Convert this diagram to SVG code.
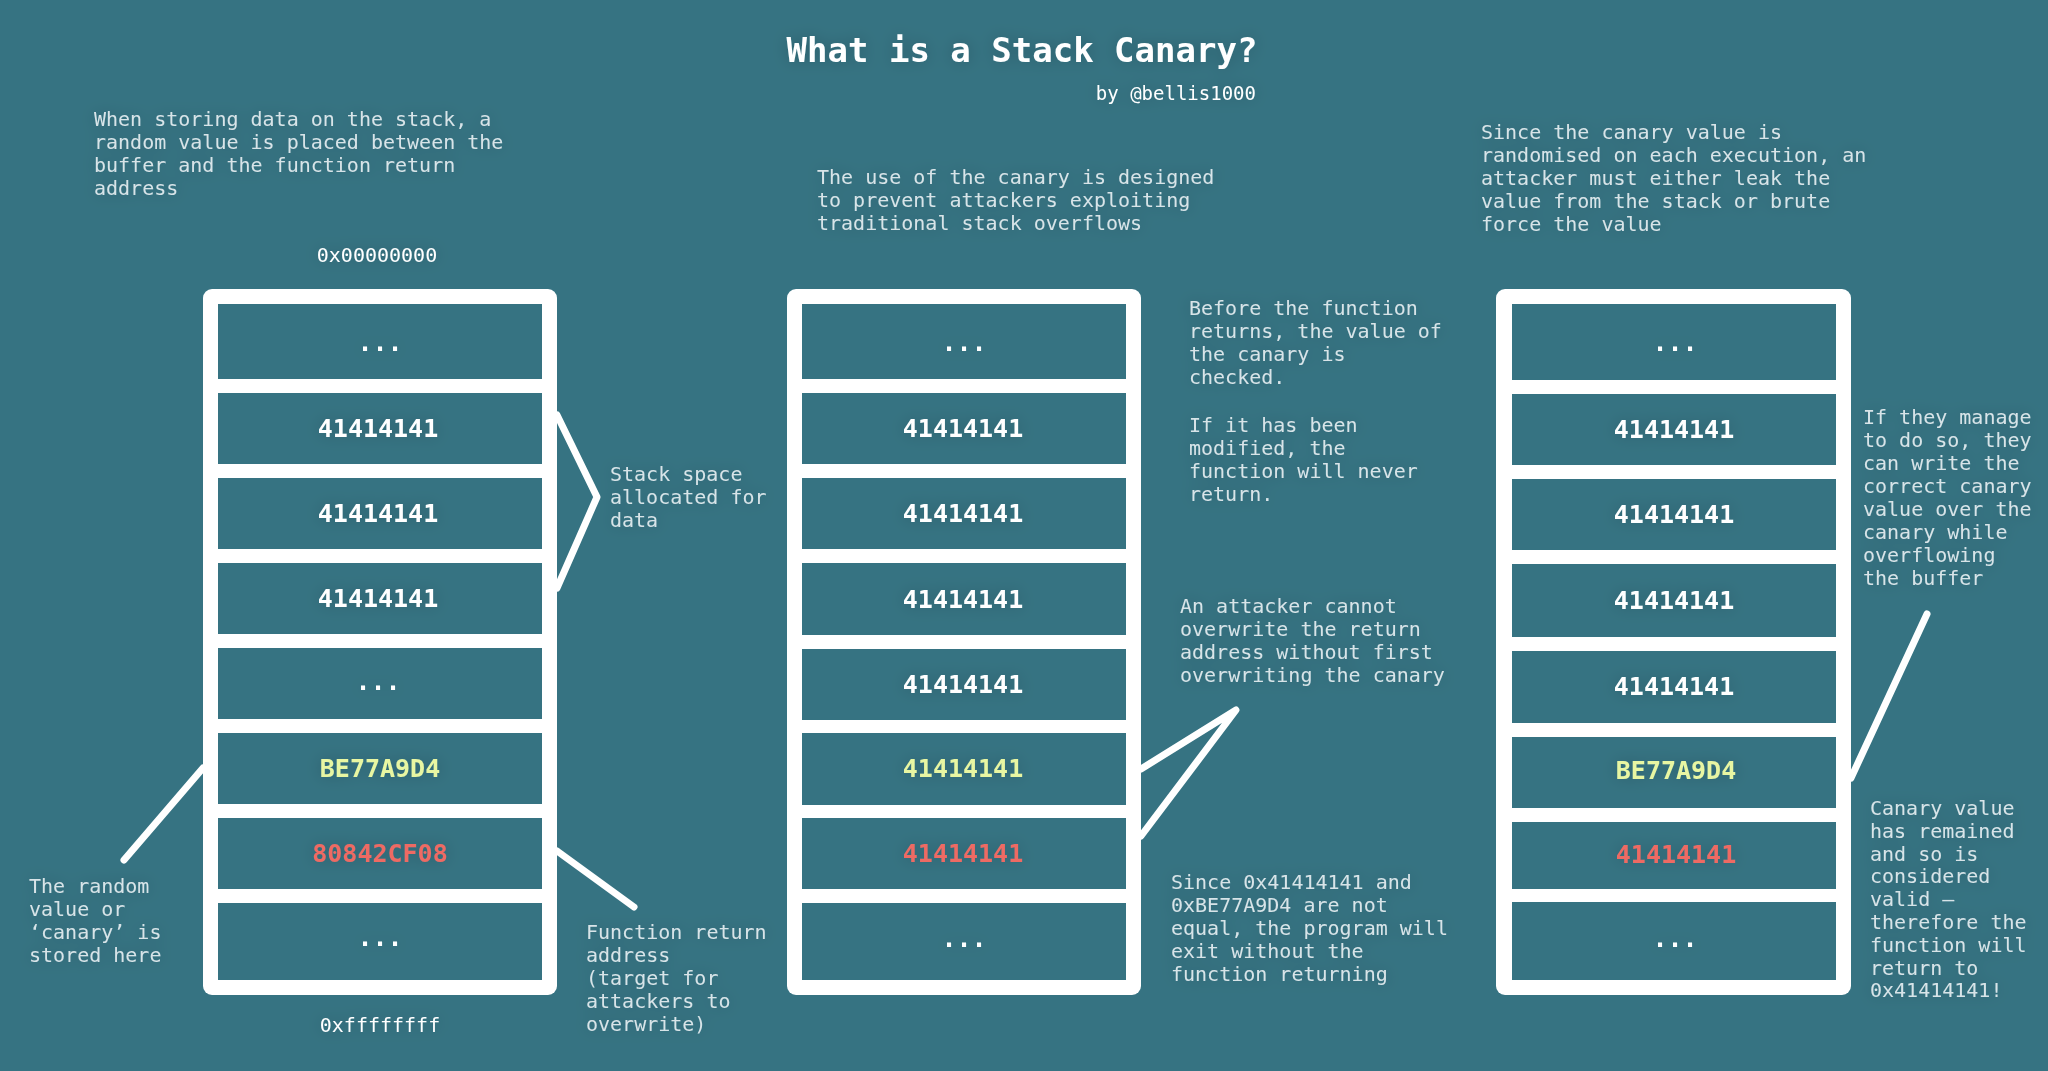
<svg xmlns="http://www.w3.org/2000/svg" width="2048" height="1071" viewBox="0 0 2048 1071">
<defs>
<filter id="sh" x="-20%" y="-50%" width="140%" height="200%">
<feGaussianBlur in="SourceAlpha" stdDeviation="8"/>
<feComponentTransfer><feFuncA type="linear" slope="0.2"/></feComponentTransfer>
<feMerge><feMergeNode/><feMergeNode in="SourceGraphic"/></feMerge>
</filter>
</defs>
<style>
.bg{fill:#367382}
.frame{fill:#ffffff}
.cell{fill:#367382}
.t{font-family:"DejaVu Sans Mono","Liberation Mono",monospace;font-size:20px;fill:#d8e4e8}
.addr{font-family:"DejaVu Sans Mono","Liberation Mono",monospace;font-size:20px;fill:#ffffff;text-anchor:middle}
.v{font-family:"DejaVu Sans Mono","Liberation Mono",monospace;font-size:25px;font-weight:bold;fill:#ffffff;text-anchor:middle}
.y{fill:#e8f6a2}
.r{fill:#ee6a64}
.title{font-family:"DejaVu Sans Mono","Liberation Mono",monospace;font-size:34px;font-weight:bold;fill:#ffffff;text-anchor:middle}
.sub{font-family:"DejaVu Sans Mono","Liberation Mono",monospace;font-size:19px;fill:#ffffff;text-anchor:end}
.con{fill:none;stroke:#ffffff;stroke-width:7;stroke-linecap:round;stroke-linejoin:round}
</style>
<rect class="bg" x="0" y="0" width="2048" height="1071"/>

<g id="title" filter="url(#sh)">
<text class="title" x="1022" y="62">What is a Stack Canary?</text>
<text class="sub" x="1256" y="100">by @bellis1000</text>
</g>

<g id="intro-left" filter="url(#sh)">
<text class="t" x="94" y="126"><tspan x="94">When storing data on the stack, a</tspan><tspan x="94" dy="23">random value is placed between the</tspan><tspan x="94" dy="23">buffer and the function return</tspan><tspan x="94" dy="23">address</tspan></text>
</g>
<g id="intro-middle" filter="url(#sh)">
<text class="t" x="817" y="184"><tspan x="817">The use of the canary is designed</tspan><tspan x="817" dy="23">to prevent attackers exploiting</tspan><tspan x="817" dy="23">traditional stack overflows</tspan></text>
</g>
<g id="intro-right" filter="url(#sh)">
<text class="t" x="1481" y="139"><tspan x="1481">Since the canary value is</tspan><tspan x="1481" dy="23">randomised on each execution, an</tspan><tspan x="1481" dy="23">attacker must either leak the</tspan><tspan x="1481" dy="23">value from the stack or brute</tspan><tspan x="1481" dy="23">force the value</tspan></text>
</g>

<g id="addr-top" filter="url(#sh)"><text class="addr" x="377" y="262">0x00000000</text></g>
<g id="addr-bottom" filter="url(#sh)"><text class="addr" x="380" y="1032">0xffffffff</text></g>

<g id="stack-left">
<rect class="frame" x="203" y="289" width="354" height="706" rx="9"/>
<rect class="cell" x="218" y="304" width="324" height="75"/>
<rect class="cell" x="218" y="393" width="324" height="71"/>
<rect class="cell" x="218" y="478" width="324" height="71"/>
<rect class="cell" x="218" y="563" width="324" height="71"/>
<rect class="cell" x="218" y="648" width="324" height="71"/>
<rect class="cell" x="218" y="733" width="324" height="71"/>
<rect class="cell" x="218" y="818" width="324" height="71"/>
<rect class="cell" x="218" y="903" width="324" height="77"/>
<g filter="url(#sh)">
<text class="v" x="380" y="351">...</text>
<text class="v" x="378" y="437">41414141</text>
<text class="v" x="378" y="522">41414141</text>
<text class="v" x="378" y="607">41414141</text>
<text class="v" x="378" y="690">...</text>
<text class="v y" x="380" y="777">BE77A9D4</text>
<text class="v r" x="380" y="862">80842CF08</text>
<text class="v" x="380" y="946">...</text>
</g>
</g>

<g id="stack-middle">
<rect class="frame" x="787" y="289" width="354" height="706" rx="9"/>
<rect class="cell" x="802" y="304" width="324" height="75"/>
<rect class="cell" x="802" y="393" width="324" height="71"/>
<rect class="cell" x="802" y="478" width="324" height="71"/>
<rect class="cell" x="802" y="563" width="324" height="72"/>
<rect class="cell" x="802" y="649" width="324" height="71"/>
<rect class="cell" x="802" y="733" width="324" height="72"/>
<rect class="cell" x="802" y="818" width="324" height="71"/>
<rect class="cell" x="802" y="903" width="324" height="77"/>
<g filter="url(#sh)">
<text class="v" x="964" y="351">...</text>
<text class="v" x="963" y="437">41414141</text>
<text class="v" x="963" y="522">41414141</text>
<text class="v" x="963" y="608">41414141</text>
<text class="v" x="963" y="693">41414141</text>
<text class="v y" x="963" y="777">41414141</text>
<text class="v r" x="963" y="862">41414141</text>
<text class="v" x="964" y="947">...</text>
</g>
</g>

<g id="stack-right">
<rect class="frame" x="1496" y="289" width="355" height="706" rx="9"/>
<rect class="cell" x="1512" y="304" width="324" height="76"/>
<rect class="cell" x="1512" y="394" width="324" height="71"/>
<rect class="cell" x="1512" y="479" width="324" height="71"/>
<rect class="cell" x="1512" y="564" width="324" height="73"/>
<rect class="cell" x="1512" y="651" width="324" height="72"/>
<rect class="cell" x="1512" y="737" width="324" height="71"/>
<rect class="cell" x="1512" y="822" width="324" height="67"/>
<rect class="cell" x="1512" y="902" width="324" height="78"/>
<g filter="url(#sh)">
<text class="v" x="1675" y="351">...</text>
<text class="v" x="1674" y="438">41414141</text>
<text class="v" x="1674" y="523">41414141</text>
<text class="v" x="1674" y="609">41414141</text>
<text class="v" x="1674" y="695">41414141</text>
<text class="v y" x="1676" y="779">BE77A9D4</text>
<text class="v r" x="1676" y="863">41414141</text>
<text class="v" x="1675" y="947">...</text>
</g>
</g>

<g id="connectors">
<polyline class="con" points="557,415 597,497 557,588"/>
<line class="con" x1="203" y1="768" x2="124" y2="860"/>
<line class="con" x1="557" y1="851" x2="634" y2="907"/>
<polyline class="con" points="1141,769 1236,710 1141,836"/>
<line class="con" x1="1927" y1="614" x2="1851" y2="778"/>
</g>

<g id="label-stack-space" filter="url(#sh)">
<text class="t" x="610" y="481"><tspan x="610">Stack space</tspan><tspan x="610" dy="23">allocated for</tspan><tspan x="610" dy="23">data</tspan></text>
</g>
<g id="label-canary" filter="url(#sh)">
<text class="t" x="29" y="893"><tspan x="29">The random</tspan><tspan x="29" dy="23">value or</tspan><tspan x="29" dy="23">‘canary’ is</tspan><tspan x="29" dy="23">stored here</tspan></text>
</g>
<g id="label-return" filter="url(#sh)">
<text class="t" x="586" y="939"><tspan x="586">Function return</tspan><tspan x="586" dy="23">address</tspan><tspan x="586" dy="23">(target for</tspan><tspan x="586" dy="23">attackers to</tspan><tspan x="586" dy="23">overwrite)</tspan></text>
</g>
<g id="label-check" filter="url(#sh)">
<text class="t" x="1189" y="315"><tspan x="1189">Before the function</tspan><tspan x="1189" dy="23">returns, the value of</tspan><tspan x="1189" dy="23">the canary is</tspan><tspan x="1189" dy="23">checked.</tspan><tspan x="1189" dy="48">If it has been</tspan><tspan x="1189" dy="23">modified, the</tspan><tspan x="1189" dy="23">function will never</tspan><tspan x="1189" dy="23">return.</tspan></text>
</g>
<g id="label-attacker" filter="url(#sh)">
<text class="t" x="1180" y="613"><tspan x="1180">An attacker cannot</tspan><tspan x="1180" dy="23">overwrite the return</tspan><tspan x="1180" dy="23">address without first</tspan><tspan x="1180" dy="23">overwriting the canary</tspan></text>
</g>
<g id="label-not-equal" filter="url(#sh)">
<text class="t" x="1171" y="889"><tspan x="1171">Since 0x41414141 and</tspan><tspan x="1171" dy="23">0xBE77A9D4 are not</tspan><tspan x="1171" dy="23">equal, the program will</tspan><tspan x="1171" dy="23">exit without the</tspan><tspan x="1171" dy="23">function returning</tspan></text>
</g>
<g id="label-manage" filter="url(#sh)">
<text class="t" x="1863" y="424"><tspan x="1863">If they manage</tspan><tspan x="1863" dy="23">to do so, they</tspan><tspan x="1863" dy="23">can write the</tspan><tspan x="1863" dy="23">correct canary</tspan><tspan x="1863" dy="23">value over the</tspan><tspan x="1863" dy="23">canary while</tspan><tspan x="1863" dy="23">overflowing</tspan><tspan x="1863" dy="23">the buffer</tspan></text>
</g>
<g id="label-valid" filter="url(#sh)">
<text class="t" x="1870" y="815"><tspan x="1870">Canary value</tspan><tspan x="1870" dy="22.8">has remained</tspan><tspan x="1870" dy="22.8">and so is</tspan><tspan x="1870" dy="22.8">considered</tspan><tspan x="1870" dy="22.8">valid –</tspan><tspan x="1870" dy="22.8">therefore the</tspan><tspan x="1870" dy="22.8">function will</tspan><tspan x="1870" dy="22.8">return to</tspan><tspan x="1870" dy="22.8">0x41414141!</tspan></text>
</g>
</svg>
